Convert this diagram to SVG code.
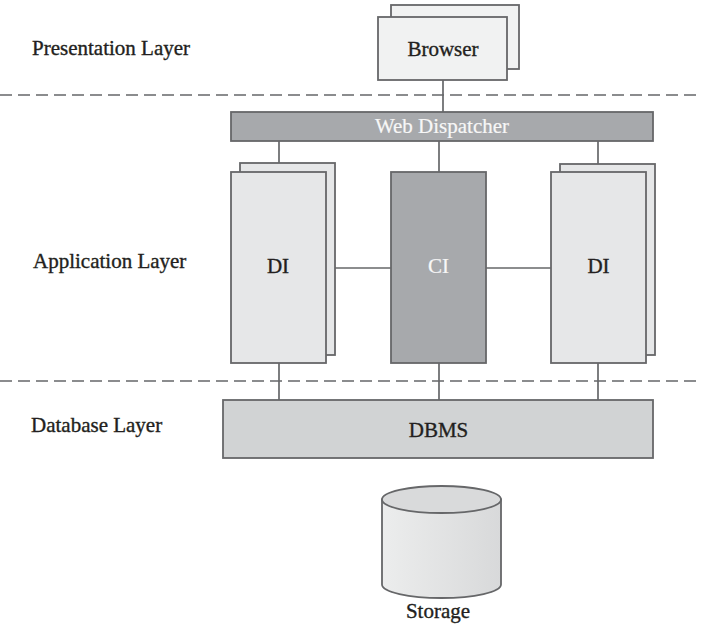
<svg xmlns="http://www.w3.org/2000/svg" width="701" height="629" viewBox="0 0 701 629">
<style>
text{font-family:"Liberation Serif","Times New Roman",serif;font-size:21px;fill:#231f20;stroke:#231f20;stroke-width:0.35}
.c{text-anchor:middle}
.w{fill:#f7f7f7;stroke:#f7f7f7;stroke-width:0.2}
.box{stroke:#666769;stroke-width:1.8}
.ln{stroke:#666769;stroke-width:1.7;fill:none}
.dash{stroke:#666769;stroke-width:1.5;stroke-dasharray:12 6;fill:none}
</style>
<defs>
<linearGradient id="cyl" x1="0" y1="0" x2="1" y2="0">
<stop offset="0" stop-color="#eceded"/>
<stop offset="1" stop-color="#d8d9da"/>
</linearGradient>
</defs>
<g id="layers">
<line class="dash" x1="0" y1="95" x2="701" y2="95"/>
<line class="dash" x1="0" y1="381" x2="701" y2="381"/>
<text x="32" y="55">Presentation Layer</text>
<text x="33" y="268">Application Layer</text>
<text x="31" y="432">Database Layer</text>
</g>
<g id="connectors">
<line class="ln" x1="443" y1="80" x2="443" y2="112"/>
<line class="ln" x1="279" y1="141" x2="279" y2="163"/>
<line class="ln" x1="439" y1="141" x2="439" y2="172"/>
<line class="ln" x1="598" y1="141" x2="598" y2="164"/>
<line class="ln" x1="335" y1="268" x2="391" y2="268"/>
<line class="ln" x1="486" y1="268" x2="551" y2="268"/>
<line class="ln" x1="279" y1="363" x2="279" y2="400"/>
<line class="ln" x1="439" y1="363" x2="439" y2="400"/>
<line class="ln" x1="598" y1="363" x2="598" y2="400"/>
</g>
<g id="browser">
<rect class="box" x="391" y="5" width="128" height="64" fill="#f1f2f2"/>
<rect class="box" x="378" y="17" width="129" height="63" fill="#f1f2f2"/>
<text class="c" x="443" y="56">Browser</text>
</g>
<g id="webdispatcher">
<rect class="box" x="231" y="112" width="422" height="29" fill="#a7a9ac"/>
<text class="c w" x="442" y="133">Web Dispatcher</text>
</g>
<g id="di-left">
<rect class="box" x="240" y="163" width="95" height="192" fill="#e6e7e8"/>
<rect class="box" x="231" y="172" width="95" height="191" fill="#e6e7e8"/>
<text class="c" x="278" y="273">DI</text>
</g>
<g id="ci">
<rect class="box" x="391" y="172" width="95" height="191" fill="#a7a9ac"/>
<text class="c w" x="438.5" y="273">CI</text>
</g>
<g id="di-right">
<rect class="box" x="560" y="164" width="95" height="191" fill="#e6e7e8"/>
<rect class="box" x="551" y="172" width="95" height="191" fill="#e6e7e8"/>
<text class="c" x="598.5" y="273">DI</text>
</g>
<g id="dbms">
<rect class="box" x="223" y="400" width="430" height="58" fill="#d1d3d4"/>
<text class="c" x="438.5" y="437">DBMS</text>
</g>
<g id="storage">
<path class="box" d="M382,499.5 V584.5 A59.5,13.5 0 0 0 501,584.5 V499.5 Z" fill="url(#cyl)"/>
<ellipse class="box" cx="441.5" cy="499.5" rx="59.5" ry="13.5" fill="#d9dadb"/>
<text class="c" x="438" y="618">Storage</text>
</g>
</svg>
